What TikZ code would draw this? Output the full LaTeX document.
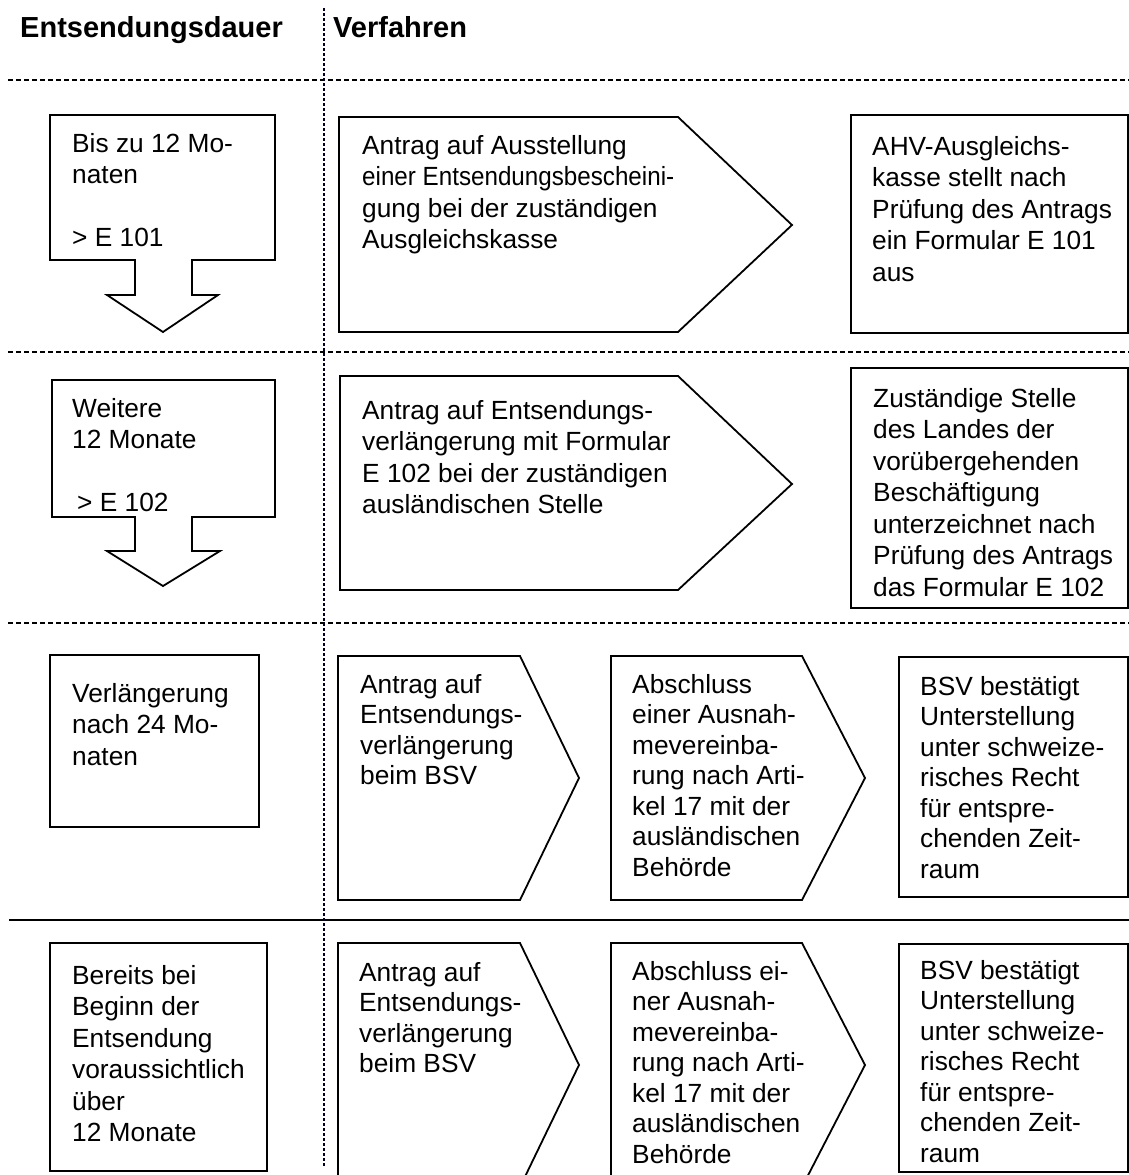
\documentclass[tikz,border=0pt]{standalone}
\usepackage{fontspec}
\setmainfont{Liberation Sans}
\begin{document}
\begin{tikzpicture}[x=1pt,y=-1pt, line join=miter,
  shp/.style={draw=black, line width=1.8pt, fill=white},
  sep/.style={line width=2pt, dash pattern=on 4.5pt off 3.5pt},
  vsep/.style={line width=2pt, dash pattern=on 3pt off 2pt, draw=black!85!blue},
  solidsep/.style={line width=2pt},
  txt/.style={anchor=north west, yshift=17pt, inner sep=0pt, align=left, font=\fontsize{26.3}{31.5}\selectfont, execute at begin node=\strut},
  txtb/.style={txt, font=\fontsize{26.3}{30.5}\selectfont},
  hdr/.style={anchor=base west, inner sep=0pt, font=\fontsize{29}{34}\selectfont\bfseries}]
\useasboundingbox (0,0) rectangle (1129,1175);
\clip (0,0) rectangle (1129,1175);
% separators
\coordinate (h1a) at (8,80);   \coordinate (h1b) at (1129,80);
\coordinate (h2a) at (8,352);  \coordinate (h2b) at (1129,352);
\coordinate (h3a) at (8,623);  \coordinate (h3b) at (1129,623);
\coordinate (h4a) at (9,920);  \coordinate (h4b) at (1129,920);
\coordinate (va) at (324,8);   \coordinate (vb) at (324,1166);
\draw[sep] (h1a) -- (h1b);
\draw[sep] (h2a) -- (h2b);
\draw[sep] (h3a) -- (h3b);
\draw[solidsep] (h4a) -- (h4b);
\draw[vsep] (va) -- (vb);
% headers
\node[hdr] (hd1) at (20,37) {Entsendungsdauer};
\node[hdr] (hd2) at (333,37) {Verfahren};
% row 1
\draw[shp] (50,115) -- (275,115) -- (275,260) -- (192,260) -- (192,295) -- (218,295) -- (163,332) -- (107,295) -- (135,295) -- (135,260) -- (50,260) -- cycle;
\draw[shp] (339,117) -- (678,117) -- (792,225) -- (678,332) -- (339,332) -- cycle;
\draw[shp] (851,115) rectangle (1128,333);
\node[txt] (t1) at (72,150) {Bis zu 12 Mo-\\naten\\[31.5pt]> E 101};
\node[txt] (t2) at (362,152) {Antrag auf Ausstellung\\\scalebox{0.92}[1]{einer Entsendungsbescheini-}\\gung bei der zuständigen\\Ausgleichskasse};
\node[txt] (t3) at (872,153) {AHV-Ausgleichs-\\kasse stellt nach\\Prüfung des Antrags\\ein Formular E 101\\aus};
% row 2
\draw[shp] (52,380) -- (275,380) -- (275,517) -- (192,517) -- (192,551) -- (220,551) -- (163,586) -- (107,551) -- (135,551) -- (135,517) -- (52,517) -- cycle;
\draw[shp] (340,376) -- (678,376) -- (792,484) -- (678,590) -- (340,590) -- cycle;
\draw[shp] (851,368) rectangle (1128,608);
\node[txt] (t4) at (72,415) {Weitere\\12 Monate\\[31.5pt]\hspace{5pt}> E 102};
\node[txt] (t5) at (362,417) {Antrag auf Entsendungs-\\verlängerung mit Formular\\E 102 bei der zuständigen\\ausländischen Stelle};
\node[txt] (t6) at (873,405) {Zuständige Stelle\\des Landes der\\vorübergehenden\\Beschäftigung\\unterzeichnet nach\\Prüfung des Antrags\\das Formular E 102};
% row 3
\draw[shp] (50,655) rectangle (259,827);
\draw[shp] (338,656) -- (520,656) -- (579,778) -- (520,900) -- (338,900) -- cycle;
\draw[shp] (611,656) -- (802,656) -- (865,778) -- (802,900) -- (611,900) -- cycle;
\draw[shp] (899,657) rectangle (1128,897);
\node[txt] (t7) at (72,700) {Verlängerung\\nach 24 Mo-\\naten};
\node[txtb] (t8) at (360,691) {Antrag auf\\Entsendungs-\\verlängerung\\beim BSV};
\node[txtb] (t9) at (632,691) {Abschluss\\einer Ausnah-\\mevereinba-\\rung nach Arti-\\kel 17 mit der\\ausländischen\\Behörde};
\node[txtb] (t10) at (920,693) {BSV bestätigt\\Unterstellung\\unter schweize-\\risches Recht\\für entspre-\\chenden Zeit-\\raum};
% row 4
\draw[shp] (50,943) rectangle (267,1171);
\draw[shp] (338,943) -- (520,943) -- (579,1065) -- (520,1187) -- (338,1187) -- cycle;
\draw[shp] (611,943) -- (802,943) -- (865,1065) -- (802,1187) -- (611,1187) -- cycle;
\draw[shp] (899,944) rectangle (1128,1172);
\node[txt] (t11) at (72,982) {Bereits bei\\Beginn der\\Entsendung\\voraussichtlich\\über\\12 Monate};
\node[txtb] (t12) at (359,979) {Antrag auf\\Entsendungs-\\verlängerung\\beim BSV};
\node[txtb] (t13) at (632,978) {Abschluss ei-\\ner Ausnah-\\mevereinba-\\rung nach Arti-\\kel 17 mit der\\ausländischen\\Behörde};
\node[txtb] (t14) at (920,977) {BSV bestätigt\\Unterstellung\\unter schweize-\\risches Recht\\für entspre-\\chenden Zeit-\\raum};
\end{tikzpicture}
\end{document}
